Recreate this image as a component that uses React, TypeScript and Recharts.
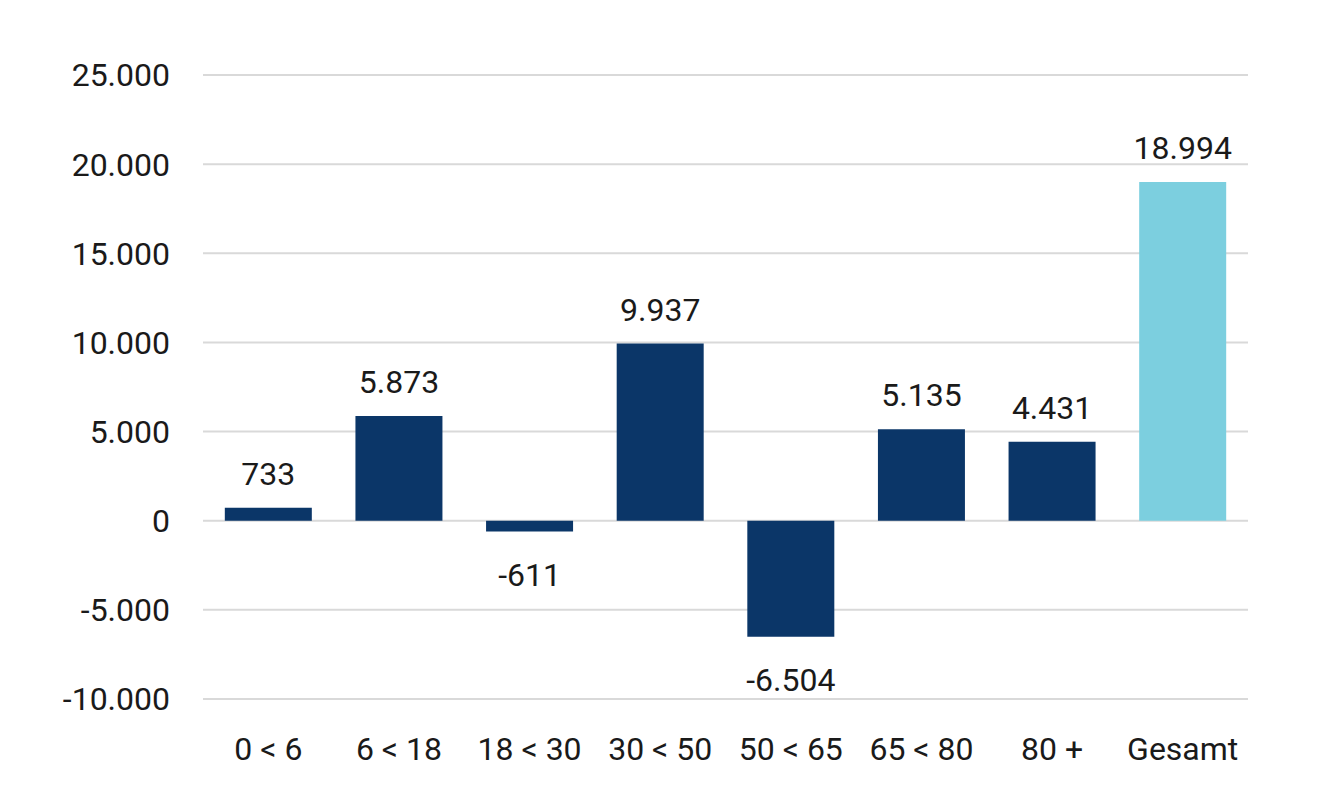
import React from 'react';
import { BarChart, Bar, XAxis, YAxis, CartesianGrid, Cell, LabelList } from 'recharts';

// Altersgruppen und Veränderung
const categories = ['0 < 6', '6 < 18', '18 < 30', '30 < 50', '50 < 65', '65 < 80', '80 +', 'Gesamt'];
const values = [733, 5873, -611, 9937, -6504, 5135, 4431, 18994];
const yTicks = [-10000, -5000, 0, 5000, 10000, 15000, 20000, 25000];

const NAVY = '#0b3668';
const CYAN = '#7ccfdf';
const FONT = 'Roboto, "Noto Sans", sans-serif';

const data = categories.map((name, i) => ({ name, value: values[i] }));

// German number format: 18.994, -6.504
const fmt = (v: number) => {
  const s = Math.abs(v).toString().replace(/\B(?=(\d{3})+(?!\d))/g, '.');
  return v < 0 ? '-' + s : s;
};

const renderLabel = (props: any) => {
  const { x, y, width, height, value } = props;
  const top = Math.min(y, y + height);
  const bottom = Math.max(y, y + height);
  const cx = x + width / 2;
  const ty = value >= 0 ? top - 23 : bottom + 54;
  return (
    <text x={cx} y={ty} textAnchor="middle" fill="#1a1a1a" fontSize={32} fontFamily={FONT}>
      {fmt(value)}
    </text>
  );
};

export default function App() {
  return (
    <div style={{ margin: -8, width: 1339, height: 800, background: '#fff' }}>
      <BarChart
        width={1339}
        height={800}
        data={data}
        margin={{ top: 75, right: 91, left: 0, bottom: 0 }}
        barCategoryGap="16.7%"
      >
        <CartesianGrid vertical={false} stroke="#d9d9d9" strokeWidth={2} />
        <XAxis
          dataKey="name"
          height={101}
          axisLine={false}
          tickLine={false}
          tickSize={0}
          tickMargin={38}
          interval={0}
          tick={{ fontSize: 32, fill: '#1a1a1a', fontFamily: FONT }}
        />
        <YAxis
          width={203}
          domain={[-10000, 25000]}
          ticks={yTicks}
          tickFormatter={fmt}
          axisLine={false}
          tickLine={false}
          tickSize={0}
          tickMargin={33}
          tick={{ fontSize: 32, fill: '#1a1a1a', fontFamily: FONT }}
        />
        <Bar dataKey="value" isAnimationActive={false}>
          {data.map((d, i) => (
            <Cell key={d.name} fill={d.name === 'Gesamt' ? CYAN : NAVY} />
          ))}
          <LabelList dataKey="value" content={renderLabel} />
        </Bar>
      </BarChart>
    </div>
  );
}
